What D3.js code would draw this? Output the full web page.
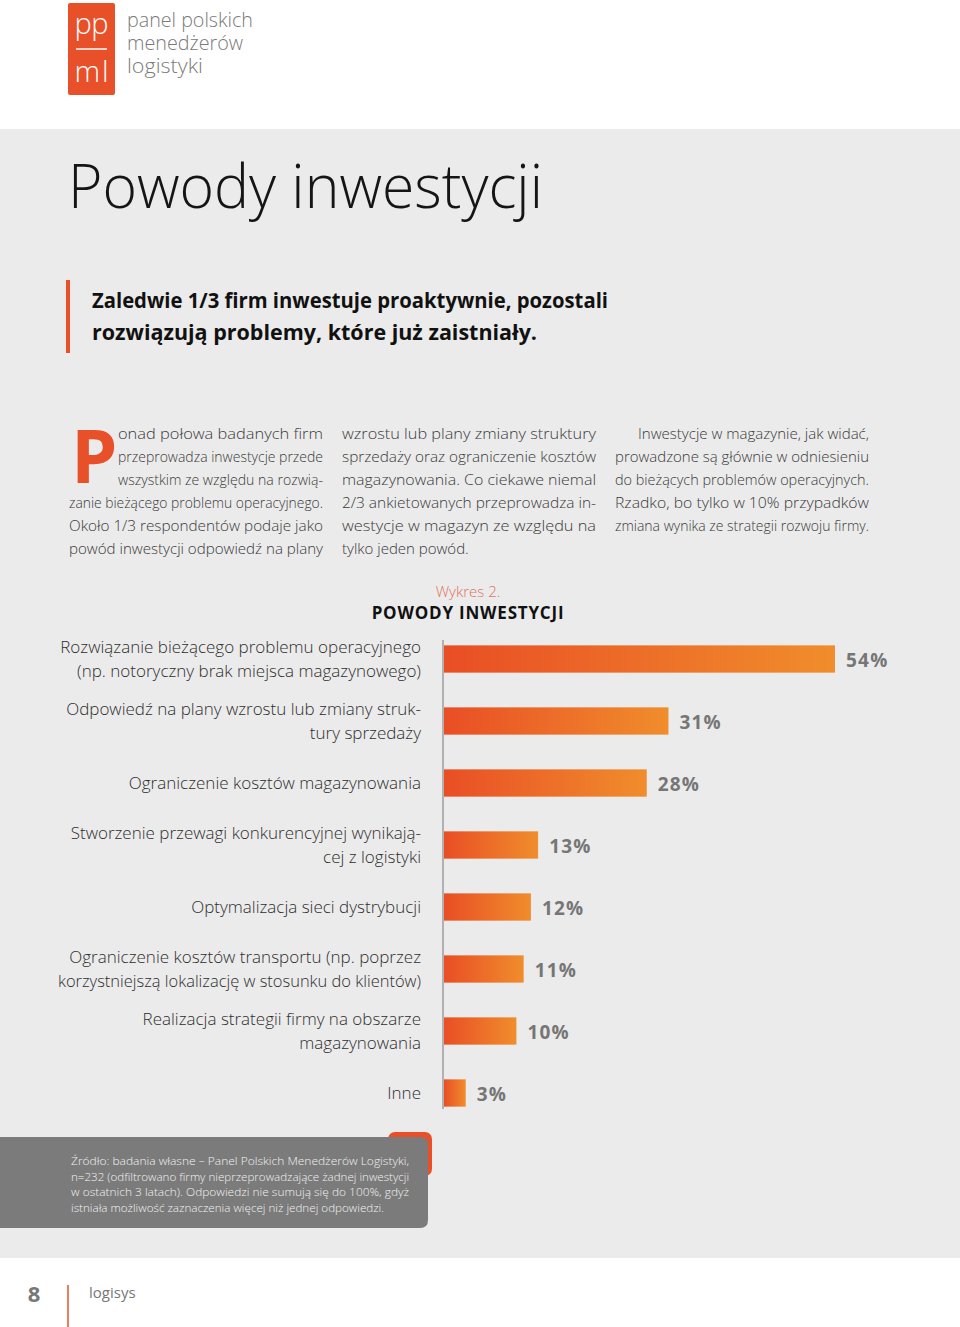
<!DOCTYPE html>
<html><head><meta charset="utf-8">
<script src="https://cdn.jsdelivr.net/npm/d3@7"></script>
<style>
html,body{margin:0;padding:0;background:#fff;}
svg{display:block;}
text{font-family:"Open Sans","Noto Sans",sans-serif;}
</style></head>
<body>
<script>
// ---- data ----
const categories = [
  ["Rozwiązanie bieżącego problemu operacyjnego", "(np. notoryczny brak miejsca magazynowego)"],
  ["Odpowiedź na plany wzrostu lub zmiany struk-", "tury sprzedaży"],
  ["Ograniczenie kosztów magazynowania"],
  ["Stworzenie przewagi konkurencyjnej wynikają-", "cej z logistyki"],
  ["Optymalizacja sieci dystrybucji"],
  ["Ograniczenie kosztów transportu (np. poprzez", "korzystniejszą lokalizację w stosunku do klientów)"],
  ["Realizacja strategii firmy na obszarze", "magazynowania"],
  ["Inne"]
];
const values = [54, 31, 28, 13, 12, 11, 10, 3];
const valueLabels = ["54%", "31%", "28%", "13%", "12%", "11%", "10%", "3%"];

const chartLabel = "Wykres 2.";
const chartTitle = "POWODY INWESTYCJI";
const pageTitle = "Powody inwestycji";
const headline = ["Zaledwie 1/3 firm inwestuje proaktywnie, pozostali", "rozwiązują problemy, które już zaistniały."];
const col1 = ["onad połowa badanych firm", "przeprowadza inwestycje przede", "wszystkim ze względu na rozwią-", "zanie bieżącego problemu operacyjnego.", "Około 1/3 respondentów podaje jako", "powód inwestycji odpowiedź na plany"];
const col2 = ["wzrostu lub plany zmiany struktury", "sprzedaży oraz ograniczenie kosztów", "magazynowania. Co ciekawe niemal", "2/3 ankietowanych przeprowadza in-", "westycje w magazyn ze względu na", "tylko jeden powód."];
const col3 = ["Inwestycje w magazynie, jak widać,", "prowadzone są głównie w odniesieniu", "do bieżących problemów operacyjnych.", "Rzadko, bo tylko w 10% przypadków", "zmiana wynika ze strategii rozwoju firmy."];
const sourceLines = ["Źródło: badania własne – Panel Polskich Menedżerów Logistyki,", "n=232 (odfiltrowano firmy nieprzeprowadzające żadnej inwestycji", "w ostatnich 3 latach). Odpowiedzi nie sumują się do 100%, gdyż", "istniała możliwość zaznaczenia więcej niż jednej odpowiedzi."];
const logoLines = ["panel polskich", "menedżerów", "logistyki"];

const W = 960, H = 1327;
const ORANGE = "#e8502a";
const svg = d3.select("body").append("svg").attr("width", W).attr("height", H);
const defs = svg.append("defs");
const grad = defs.append("linearGradient").attr("id", "barGrad").attr("x1", "0").attr("x2", "1").attr("y1", "0").attr("y2", "0");
grad.append("stop").attr("offset", "0%").attr("stop-color", "#e94e25");
grad.append("stop").attr("offset", "100%").attr("stop-color", "#f08d2c");

// backgrounds
svg.append("rect").attr("x", 0).attr("y", 0).attr("width", W).attr("height", H).attr("fill", "#fff");
svg.append("rect").attr("x", 0).attr("y", 129).attr("width", W).attr("height", 1129).attr("fill", "#ebebeb");

// logo
const logo = svg.append("g");
logo.append("rect").attr("x", 68).attr("y", 3).attr("width", 47).attr("height", 92).attr("rx", 2).attr("fill", ORANGE);
logo.append("text").attr("x", 91.5).attr("y", 34).attr("text-anchor", "middle").attr("fill", "#fff")
  .attr("font-size", 29).attr("font-weight", 300).attr("textLength", 34).text("pp");
logo.append("line").attr("x1", 76).attr("x2", 107).attr("y1", 49).attr("y2", 49).attr("stroke", "#fff").attr("stroke-width", 1.5);
logo.append("text").attr("x", 91.5).attr("y", 82).attr("text-anchor", "middle").attr("fill", "#fff")
  .attr("font-size", 29).attr("font-weight", 300).attr("textLength", 34).text("ml");
logo.selectAll("text.ll").data(logoLines).enter().append("text").attr("class", "ll")
  .attr("x", 127).attr("y", (d, i) => 27 + i * 23).attr("fill", "#7a7a7a")
  .attr("font-size", 19.5).attr("font-weight", 300)
  .attr("textLength", (d, i) => [126, 116, 76][i]).attr("lengthAdjust", "spacingAndGlyphs").text(d => d);

// page title
svg.append("text").attr("x", 68).attr("y", 208).attr("fill", "#151515")
  .attr("font-size", 60).attr("font-weight", 300).attr("textLength", 475).attr("lengthAdjust", "spacingAndGlyphs").text(pageTitle);

// headline
svg.append("rect").attr("x", 66).attr("y", 280).attr("width", 4).attr("height", 73).attr("fill", ORANGE);
svg.selectAll("text.hl").data(headline).enter().append("text").attr("class", "hl")
  .attr("x", 92).attr("y", (d, i) => 308 + i * 32).attr("fill", "#111")
  .attr("font-size", 21.5).attr("font-weight", 700)
  .attr("textLength", (d, i) => i === 0 ? 516 : 445).attr("lengthAdjust", "spacingAndGlyphs").text(d => d);

// body paragraphs
function para(lines, x0, right, justifyLast, firstIndents) {
  lines.forEach((t, i) => {
    const xi = x0 + (firstIndents[i] || 0);
    const el = svg.append("text").attr("x", xi).attr("y", 439 + i * 23).attr("fill", "#3a3a3a")
      .attr("font-size", 15).attr("font-weight", 300).text(t);
    if (i < lines.length - 1 || justifyLast) {
      el.attr("textLength", right - xi).attr("lengthAdjust", "spacingAndGlyphs");
    }
  });
}
svg.append("text").attr("x", 71).attr("y", 483).attr("fill", ORANGE).attr("font-size", 74).attr("font-weight", 700).text("P");
para(col1, 69, 323, true, {0: 49, 1: 49, 2: 49});
para(col2, 342, 596, false, {});
para(col3, 615, 869, true, {0: 23});

// chart title
svg.append("text").attr("x", 468).attr("y", 597).attr("text-anchor", "middle").attr("fill", "#e0735d")
  .attr("font-size", 15).attr("font-weight", 300).text(chartLabel);
svg.append("text").attr("x", 468).attr("y", 619).attr("text-anchor", "middle").attr("fill", "#111")
  .attr("font-size", 17).attr("font-weight", 700).attr("letter-spacing", 0.8).text(chartTitle);

// chart
const x0 = 444;
const xScale = d3.scaleLinear().domain([0, 54]).range([x0, 835]);
const yScale = d3.scaleBand().domain(d3.range(values.length)).range([628, 1124]).paddingInner(0.56).paddingOuter(0.28);
const bh = yScale.bandwidth();

svg.append("line").attr("x1", 443).attr("x2", 443).attr("y1", 640).attr("y2", 1109).attr("stroke", "#8a8a8a").attr("stroke-width", 1.2);

const g = svg.append("g");
g.selectAll("rect.bar").data(values).enter().append("rect").attr("class", "bar")
  .attr("x", x0).attr("y", (d, i) => yScale(i)).attr("width", d => xScale(d) - x0).attr("height", bh)
  .attr("fill", "url(#barGrad)");

g.selectAll("text.val").data(values).enter().append("text").attr("class", "val")
  .attr("x", d => xScale(d) + 11).attr("y", (d, i) => yScale(i) + bh / 2 + 8)
  .attr("fill", "#767676").attr("font-size", 19).attr("font-weight", 700).attr("letter-spacing", 1.2)
  .text((d, i) => valueLabels[i]);

const maxLabelW = 363;
categories.forEach((lines, i) => {
  const cy = yScale(i) + bh / 2;
  const n = lines.length;
  lines.forEach((t, j) => {
    const y = cy + (j - (n - 1) / 2) * 23.5 + 6;
    const el = g.append("text").attr("x", 421).attr("y", y).attr("text-anchor", "end").attr("fill", "#2e2e2e")
      .attr("font-size", 17).attr("font-weight", 300).text(t);
    if (el.node().getComputedTextLength() > maxLabelW) {
      el.attr("textLength", maxLabelW).attr("lengthAdjust", "spacingAndGlyphs");
    }
  });
});

// source box
svg.append("rect").attr("x", 388).attr("y", 1132).attr("width", 44).attr("height", 44).attr("rx", 7).attr("fill", ORANGE);
svg.append("path").attr("d", "M0,1137 H420 Q428,1137 428,1145 V1220 Q428,1228 420,1228 H0 Z").attr("fill", "#7b7b7b");
svg.selectAll("text.src").data(sourceLines).enter().append("text").attr("class", "src")
  .attr("x", 71).attr("y", (d, i) => 1165 + i * 15.5).attr("fill", "#f2f2f2")
  .attr("font-size", 11.5).attr("font-weight", 300)
  .attr("textLength", (d, i) => [338, 338, 338, 313][i]).attr("lengthAdjust", "spacingAndGlyphs").text(d => d);

// footer
svg.append("text").attr("x", 34).attr("y", 1302).attr("text-anchor", "middle").attr("fill", "#777")
  .attr("font-size", 22).attr("font-weight", 700).text("8");
svg.append("line").attr("x1", 68).attr("x2", 68).attr("y1", 1285).attr("y2", 1327).attr("stroke", ORANGE).attr("stroke-width", 1.5);
svg.append("text").attr("x", 89).attr("y", 1298).attr("fill", "#777")
  .attr("font-size", 15).attr("font-weight", 400).text("logisys");
</script>
</body></html>
